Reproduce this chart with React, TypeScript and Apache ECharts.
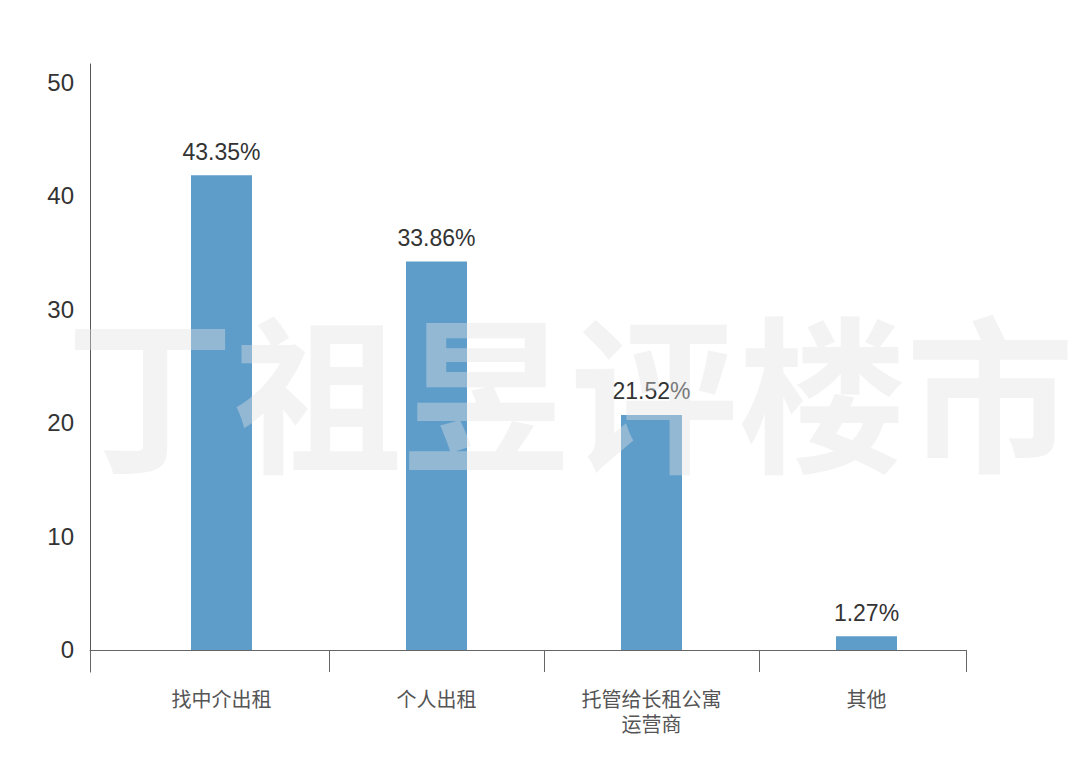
import React, { useEffect, useRef } from "react";
import * as echarts from "echarts";

const categories = ["找中介出租", "个人出租", "托管给长租公寓\n运营商", "其他"];
const barValues = [41.8, 34.2, 20.7, 1.2];
const shareValues = [43.35, 33.86, 21.52, 1.27];
const yTickValues = [0, 10, 20, 30, 40, 50];
const watermarkText = "丁祖昱评楼市";

export default function App() {
  const ref = useRef<HTMLDivElement>(null);
  useEffect(() => {
    document.body.style.margin = "0";
    const chart = echarts.init(ref.current!, null, { renderer: "svg" });
    const xMin = -0.6116;
    const xMax = 3.4628;
    chart.setOption({
      animation: false,
      backgroundColor: "#ffffff",
      grid: { left: 90, right: 114, top: 64, bottom: 106, containLabel: false, outerBoundsMode: "none" },
      xAxis: {
        type: "value",
        min: xMin,
        max: xMax,
        splitLine: { show: false },
        axisLine: { show: true, onZero: true, lineStyle: { color: "#666", width: 1 } },
        axisTick: {
          show: true,
          length: 22,
          customValues: [xMin, 0.5, 1.5, 2.5, xMax],
          lineStyle: { color: "#666", width: 1 },
        },
        axisLabel: {
          customValues: categories.map((_, i) => i),
          formatter: (v: number) => categories[Math.round(v)] ?? "",
          margin: 14,
          fontSize: 20,
          lineHeight: 25,
          color: "#555",
          fontFamily: "'Noto Sans CJK SC', sans-serif",
          align: "center",
        },
      },
      yAxis: {
        type: "value",
        min: -1.94,
        max: 51.6,
        splitLine: { show: false },
        axisLine: { show: true, onZero: false, lineStyle: { color: "#555", width: 1 } },
        axisTick: { show: false },
        axisLabel: {
          customValues: yTickValues,
          fontSize: 24,
          color: "#333",
          margin: 16,
          fontFamily: "'Liberation Sans', Arial, sans-serif",
        },
      },
      series: [
        {
          type: "bar",
          barWidth: 61,
          data: categories.map((_, i) => [i, barValues[i]]),
          itemStyle: { color: "#5e9dca" },
          label: {
            show: true,
            position: "top",
            distance: 12,
            fontSize: 23,
            color: "#333",
            fontFamily: "'Liberation Sans', Arial, sans-serif",
            formatter: (p: any) => shareValues[p.dataIndex].toFixed(2) + "%",
          },
          z: 2,
        },
      ],
      graphic: [
        {
          type: "text",
          left: 66,
          top: 302,
          silent: true,
          z: 100,
          style: {
            text: watermarkText,
            fontSize: 168,
            fontWeight: "bold",
            fontFamily: "'Noto Sans CJK SC', serif",
            fill: "rgba(225,225,225,0.4)",
          },
        },
      ],
    });
    return () => chart.dispose();
  }, []);
  return <div ref={ref} style={{ width: 1080, height: 778 }} />;
}
